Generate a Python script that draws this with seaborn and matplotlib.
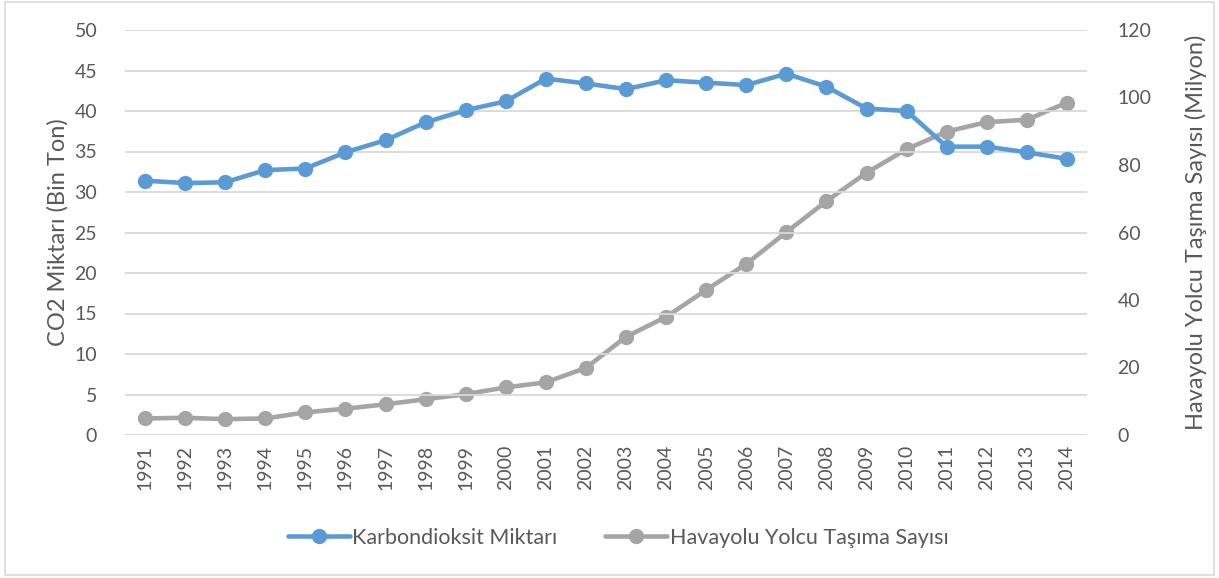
import numpy as np
import pandas as pd
import matplotlib
matplotlib.use('Agg')
import matplotlib.pyplot as plt
import seaborn as sns
from matplotlib.patches import Rectangle

years = list(range(1991, 2015))
co2 = [31.4, 31.1, 31.2, 32.7, 32.9, 34.9, 36.4, 38.6, 40.1, 41.2, 44.0, 43.4,
       42.7, 43.8, 43.5, 43.2, 44.6, 43.0, 40.3, 40.0, 35.6, 35.6, 34.9, 34.1]
yolcu = [4.9, 5.1, 4.7, 4.9, 6.7, 7.8, 9.1, 10.6, 12.1, 14.1, 15.6, 19.9,
         29.1, 35.0, 43.0, 50.7, 60.1, 69.3, 77.7, 84.7, 89.9, 92.7, 93.4, 98.5]

df = pd.DataFrame({'Yil': years, 'CO2': co2, 'Yolcu': yolcu})

sns.set_theme(style='white')
plt.rcParams['font.family'] = ['Lato', 'DejaVu Sans']

mavi = '#5B9BD5'
gri = '#A5A5A5'
yazi = '#595959'

fig = plt.figure(figsize=(12.19, 5.78), dpi=100)
ax = fig.add_axes([125 / 1219, 1 - 435 / 578, 962 / 1219, 405 / 578])
ax2 = ax.twinx()

sns.lineplot(data=df, x='Yil', y='CO2', ax=ax, color=mavi, linewidth=3.3,
             marker='o', markersize=11, markeredgewidth=0,
             label='Karbondioksit Miktarı', legend=False)
sns.lineplot(data=df, x='Yil', y='Yolcu', ax=ax2, color=gri, linewidth=3.3,
             marker='o', markersize=11, markeredgewidth=0,
             label='Havayolu Yolcu Taşıma Sayısı', legend=False)

ax.set_xlim(1990.5, 2014.5)
ax.set_ylim(0, 50)
ax2.set_ylim(0, 120)
ax.set_yticks(np.arange(0, 51, 5))
ax2.set_yticks(np.arange(0, 121, 20))
ax.set_xticks(years)
ax.set_xticklabels([str(y) for y in years], rotation=90)

ax.yaxis.grid(True, color='#D9D9D9', linewidth=1.3)
ax.set_axisbelow(True)
for a in (ax, ax2):
    for s in a.spines.values():
        s.set_visible(False)
    a.tick_params(axis='both', length=0, labelsize=14, labelcolor=yazi)
ax.tick_params(axis='y', pad=20)
ax2.tick_params(axis='y', pad=22)
ax.tick_params(axis='x', pad=7)
ax.set_zorder(ax2.get_zorder() + 1)
ax.patch.set_visible(False)

ax.set_xlabel('')
ax.set_ylabel('CO2 Miktarı (Bin Ton)', fontsize=17, color=yazi, labelpad=4)
ax2.set_ylabel('Havayolu Yolcu Taşıma Sayısı (Milyon)', fontsize=17,
               color=yazi, labelpad=24)

h1, l1 = ax.get_legend_handles_labels()
h2, l2 = ax2.get_legend_handles_labels()
fig.legend(h1 + h2, l1 + l2, loc='center', bbox_to_anchor=(0.507, 1 - 538 / 578),
           ncol=2, frameon=False, fontsize=15.5, labelcolor=yazi,
           handlelength=2.9, columnspacing=2.2, handletextpad=0.1)

fig.patches.append(Rectangle((0.004, 0.006), 0.992, 0.99, transform=fig.transFigure,
                             fill=False, edgecolor='#D9D9D9', linewidth=1.2))

plt.savefig('out.png', dpi=100)
